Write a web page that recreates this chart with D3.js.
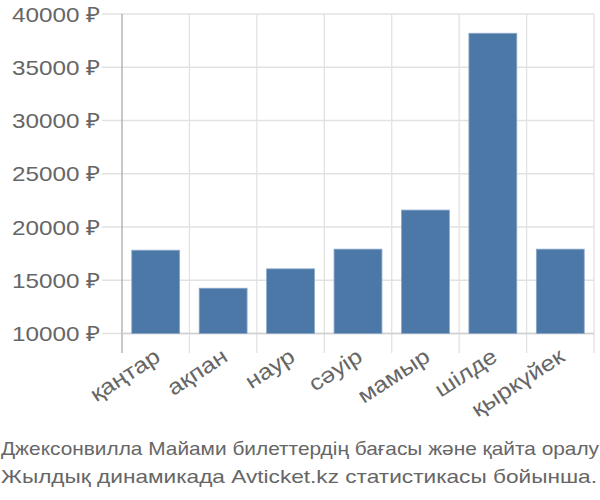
<!DOCTYPE html>
<html><head><meta charset="utf-8">
<script src="https://cdn.jsdelivr.net/npm/d3@7"></script>
<style>body{margin:0;background:#fff}svg{display:block}text{font-family:"Liberation Sans",Arial,sans-serif;fill:#666}</style>
</head><body><svg id="c" width="600" height="500"></svg>
<script>
const months = ["қаңтар","ақпан","наур","сәуір","мамыр","шілде","қыркүйек"];
const prices = [17820, 14250, 16070, 17920, 21590, 38190, 17920];
const yTicks = [10000, 15000, 20000, 25000, 30000, 35000, 40000];
const captionLines = ["Джексонвилла Майами билеттердің бағасы және қайта оралу","Жылдық динамикада Avticket.kz статистикасы бойынша."];

const svg = d3.select("#c");
const x = d3.scaleBand().domain(months).range([122, 594]).paddingInner(0.29).paddingOuter(0.145);
const y = d3.scaleLinear().domain([10000, 40000]).range([333.5, 14]);
const step = x.step();

svg.append("g").selectAll("line").data(yTicks).join("line")
  .attr("x1", 102).attr("x2", 594).attr("y1", d=>y(d)).attr("y2", d=>y(d))
  .attr("stroke", "#e2e2e2").attr("stroke-width", 1.3);
const bounds = months.map((m,i)=>x.range()[0] + i*step).concat([x.range()[1]]);
svg.append("g").selectAll("line").data(bounds).join("line")
  .attr("x1", d=>d).attr("x2", d=>d).attr("y1", 14).attr("y2", 353)
  .attr("stroke", (d,i)=> i===0 ? "#aaa" : "#e2e2e2").attr("stroke-width", 1.3);
svg.append("line").attr("x1",122).attr("x2",594).attr("y1",y(10000)).attr("y2",y(10000)).attr("stroke","#d0d0d0").attr("stroke-width",1.3);

svg.append("g").selectAll("rect").data(prices).join("rect")
  .attr("x", (d,i)=>x(months[i])).attr("width", x.bandwidth())
  .attr("y", d=>y(d)).attr("height", d=>y(10000)-y(d))
  .attr("fill", "#4c78a8").attr("stroke", "#8aa8c8").attr("stroke-width", 0.8);

svg.append("g").selectAll("text").data(yTicks).join("text")
  .attr("x", 100).attr("y", d=>y(d)).attr("dy", "0.36em")
  .attr("text-anchor", "end").style("font-size", "21px")
  .attr("textLength", 88).attr("lengthAdjust", "spacingAndGlyphs")
  .text(d=>d + " ₽");

svg.append("g").selectAll("text").data(months).join("text")
  .attr("transform", m=>`translate(${x(m)+x.bandwidth()/2+6},${360}) rotate(-33) scale(1.2,1.04)`)
  .attr("text-anchor", "end").style("font-size", "21px")
  .text(m=>m);

svg.append("g").selectAll("text").data(captionLines).join("text")
  .attr("x", 1).attr("y", (d,i)=>455 + i*28)
  .attr("textLength", (d,i)=> i===0 ? 598 : 596).attr("lengthAdjust","spacingAndGlyphs")
  .style("font-size", "19px")
  .text(d=>d);
</script></body></html>
